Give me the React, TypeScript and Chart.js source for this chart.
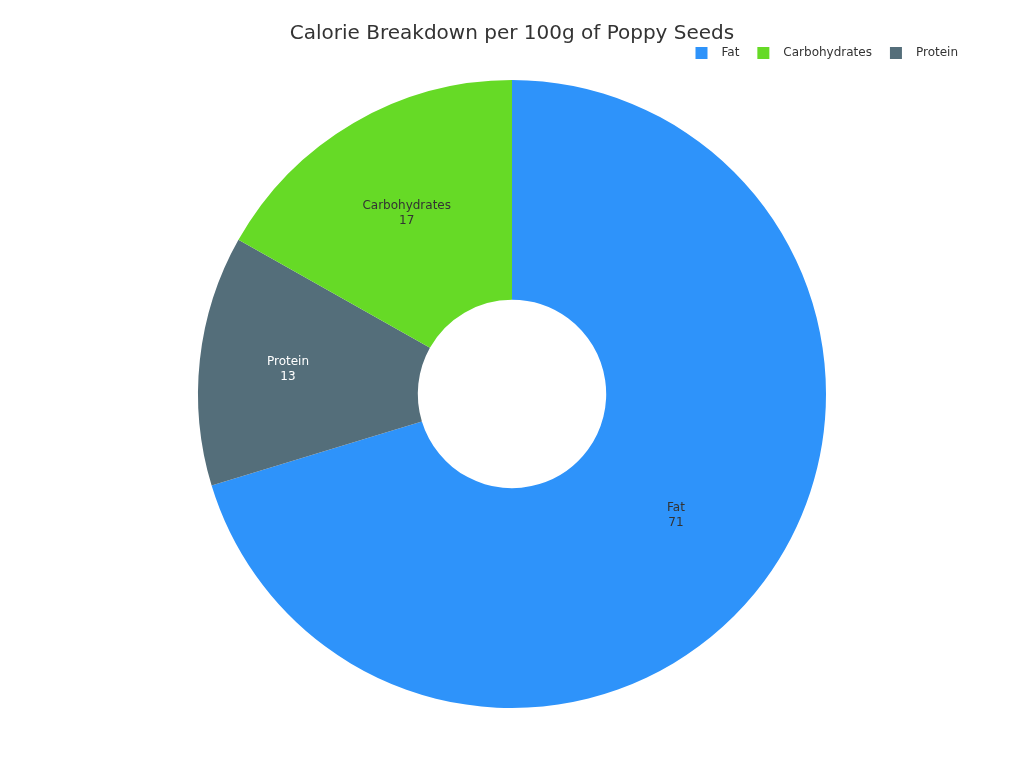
import React, { useEffect, useRef } from "react";
import { Chart, registerables } from "chart.js";

Chart.register(...registerables);

// slice order as drawn clockwise from 12 o'clock
const sliceLabelsText = ["Fat", "Protein", "Carbohydrates"];
const sliceValues = [71, 13, 17];
const sliceColors = ["#2E93FA", "#546E7A", "#66DA26"];
const sliceTextColors = ["#333333", "#FFFFFF", "#333333"];

// legend order
const legendLabels = ["Fat", "Carbohydrates", "Protein"];
const legendColors = ["#2E93FA", "#66DA26", "#546E7A"];

const titleText = "Calorie Breakdown per 100g of Poppy Seeds";
const FONT = "'DejaVu Sans', sans-serif";

const sliceLabels = {
  id: "sliceLabels",
  afterDatasetsDraw(chart: any) {
    const ctx = chart.ctx;
    const meta = chart.getDatasetMeta(0);
    ctx.save();
    ctx.font = `12px ${FONT}`;
    ctx.textAlign = "center";
    ctx.textBaseline = "middle";
    meta.data.forEach((arc: any, i: number) => {
      const { x, y, startAngle, endAngle, innerRadius, outerRadius } = arc.getProps(
        ["x", "y", "startAngle", "endAngle", "innerRadius", "outerRadius"],
        true
      );
      const mid = (startAngle + endAngle) / 2;
      const half = (endAngle - startAngle) / 2;
      const ring = (outerRadius - innerRadius) / outerRadius;
      const inscribed = Math.min(1 / (1 + 1 / Math.sin(Math.min(half, Math.PI / 2) || 1e-6)), ring / 2);
      const r = outerRadius * (1 - inscribed);
      const cx = x + Math.cos(mid) * r;
      const cy = y + Math.sin(mid) * r;
      ctx.fillStyle = sliceTextColors[i];
      ctx.fillText(sliceLabelsText[i], cx, cy - 7.5);
      ctx.fillText(String(chart.data.datasets[0].data[i]), cx, cy + 7.5);
    });
    ctx.restore();
  },
};

const customLegend = {
  id: "customLegend",
  afterDraw(chart: any) {
    const ctx = chart.ctx;
    ctx.save();
    ctx.font = `12px ${FONT}`;
    ctx.textBaseline = "middle";
    ctx.textAlign = "left";
    const box = 12;
    const gap = 14;
    const itemGap = 18;
    const rightEdge = 958;
    const cy = 53;
    const widths = legendLabels.map((c) => box + gap + ctx.measureText(c).width);
    const total = widths.reduce((a, b) => a + b, 0) + itemGap * (legendLabels.length - 1);
    let x = rightEdge - total;
    legendLabels.forEach((c, i) => {
      ctx.fillStyle = legendColors[i];
      ctx.fillRect(x, cy - box / 2, box, box);
      ctx.fillStyle = "#333333";
      ctx.fillText(c, x + box + gap, cy);
      x += widths[i] + itemGap;
    });
    ctx.restore();
  },
};

export default function App() {
  const ref = useRef<HTMLCanvasElement>(null);
  useEffect(() => {
    if (!ref.current) return;
    const chart = new Chart(ref.current, {
      type: "doughnut",
      data: {
        labels: sliceLabelsText,
        datasets: [
          {
            data: sliceValues,
            backgroundColor: sliceColors,
            borderWidth: 0,
          },
        ],
      },
      options: {
        animation: false,
        responsive: false,
        cutout: "30%",
        layout: { padding: { top: 0, bottom: 60, left: 0, right: 0 } },
        plugins: {
          legend: { display: false },
          tooltip: { enabled: false },
          title: {
            display: true,
            text: titleText,
            color: "#333333",
            font: { family: FONT, size: 20, weight: "normal" },
            padding: { top: 22, bottom: 34 },
          },
        },
      },
      plugins: [sliceLabels, customLegend],
    });
    return () => chart.destroy();
  }, []);
  return (
    <div style={{ position: "absolute", left: 0, top: 0, width: 1024, height: 768, background: "#fff" }}>
      <canvas ref={ref} width={1024} height={768} style={{ width: 1024, height: 768 }} />
    </div>
  );
}
